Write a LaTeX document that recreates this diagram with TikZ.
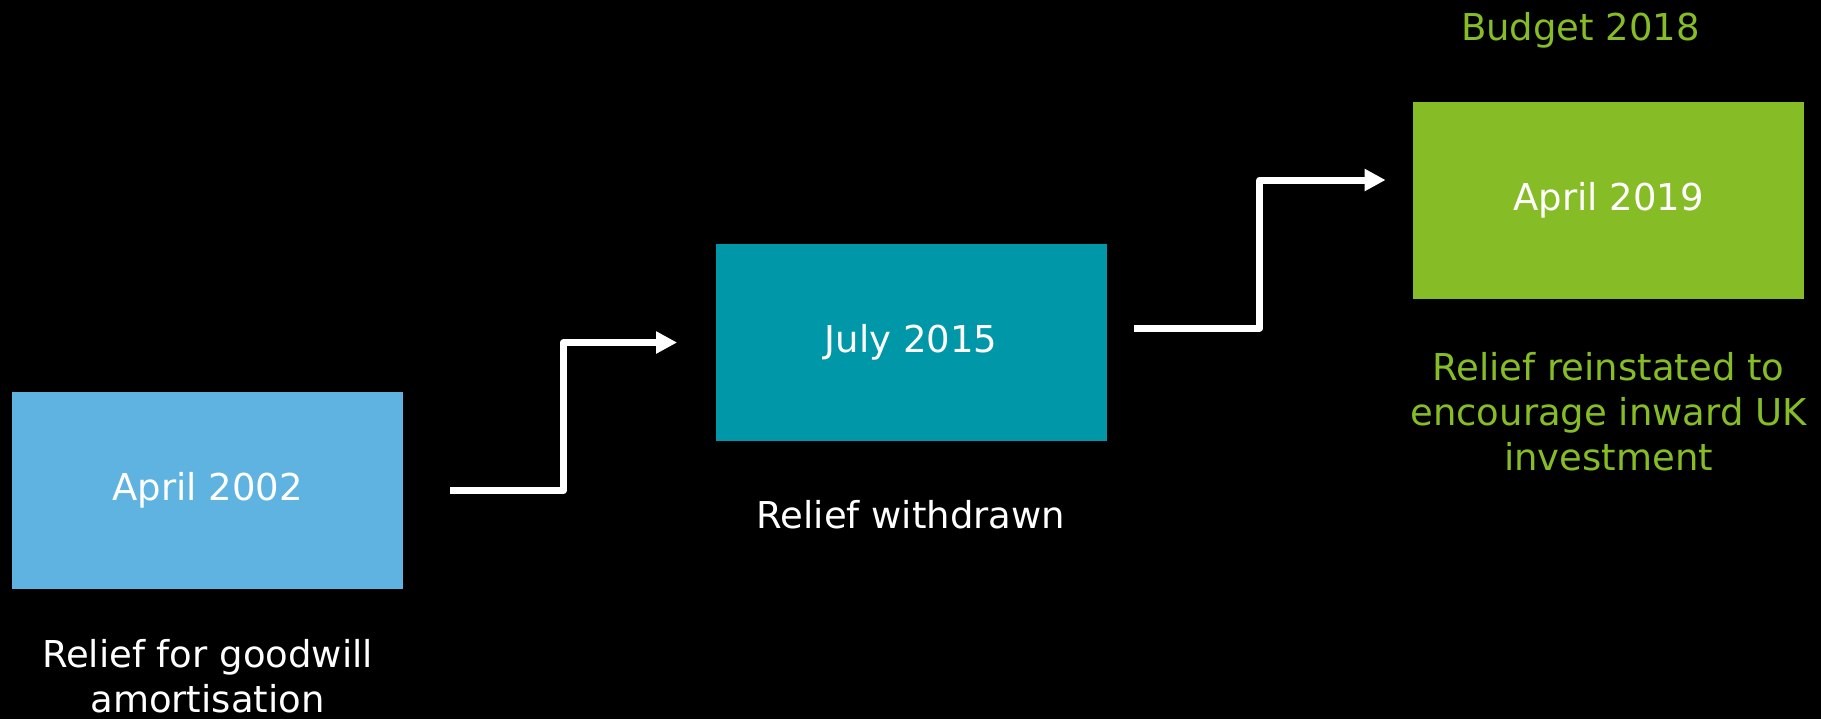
\documentclass[tikz,border=0pt]{standalone}
\usepackage{fontspec}
\setmainfont{DejaVu Sans}
\usetikzlibrary{positioning, arrows.meta}

\definecolor{skyblue}{HTML}{5FB3E1}
\definecolor{tealbox}{HTML}{0097A9}
\definecolor{limegreen}{HTML}{86BC25}

\tikzset{
  datebox/.style={minimum width=195.5pt, minimum height=98.5pt, inner sep=0pt,
    text=white, font=\fontsize{18.5}{22.5}\selectfont},
  note/.style={inner sep=0pt, align=center, font=\fontsize{18.5}{22.5}\selectfont},
  steparrow/.style={white, line width=3.5pt, line join=round,
    -{Triangle[length=10.5pt, width=10.5pt]}}
}

\begin{document}
\begin{tikzpicture}[x=0.5pt, y=-0.5pt]

  % === Background ===
  \useasboundingbox (0,0) rectangle (1821,719);
  \fill[black] (0,0) rectangle (1821,719);

  % === Date boxes ===
  \node[datebox, fill=skyblue]   (apr02) at (207.5, 490.5) {April 2002};
  \node[datebox, fill=tealbox]   (jul15) at (911, 342.5)   {July 2015};
  \node[datebox, fill=limegreen] (apr19) at (1608.5, 200.5) {April 2019};

  % === Notes under / over the boxes ===
  \node[note, text=white, below=25pt of apr02] (goodwill)
    {Relief for goodwill\\amortisation};
  \node[note, text=white, below=29.5pt of jul15] (withdrawn) {Relief withdrawn};
  \node[note, text=limegreen, below=26.5pt of apr19] (reinstated)
    {Relief reinstated to\\encourage inward UK\\investment};
  \node[note, text=limegreen, above=26.5pt of apr19, xshift=-14pt] (budget)
    {Budget 2018};

  % === Step arrows ===
  \coordinate (s1) at ([xshift=23.5pt]apr02.east);
  \coordinate (e1) at ([xshift=-19pt]jul15.west);
  \draw[steparrow] (s1) -- ++(113,0) |- (e1);

  \coordinate (s2) at ([xshift=13.5pt, yshift=7.25pt]jul15.east);
  \coordinate (e2) at ([xshift=-13.5pt, yshift=10.25pt]apr19.west);
  \draw[steparrow] (s2) -- ++(126,0) |- (e2);

\end{tikzpicture}
\end{document}
